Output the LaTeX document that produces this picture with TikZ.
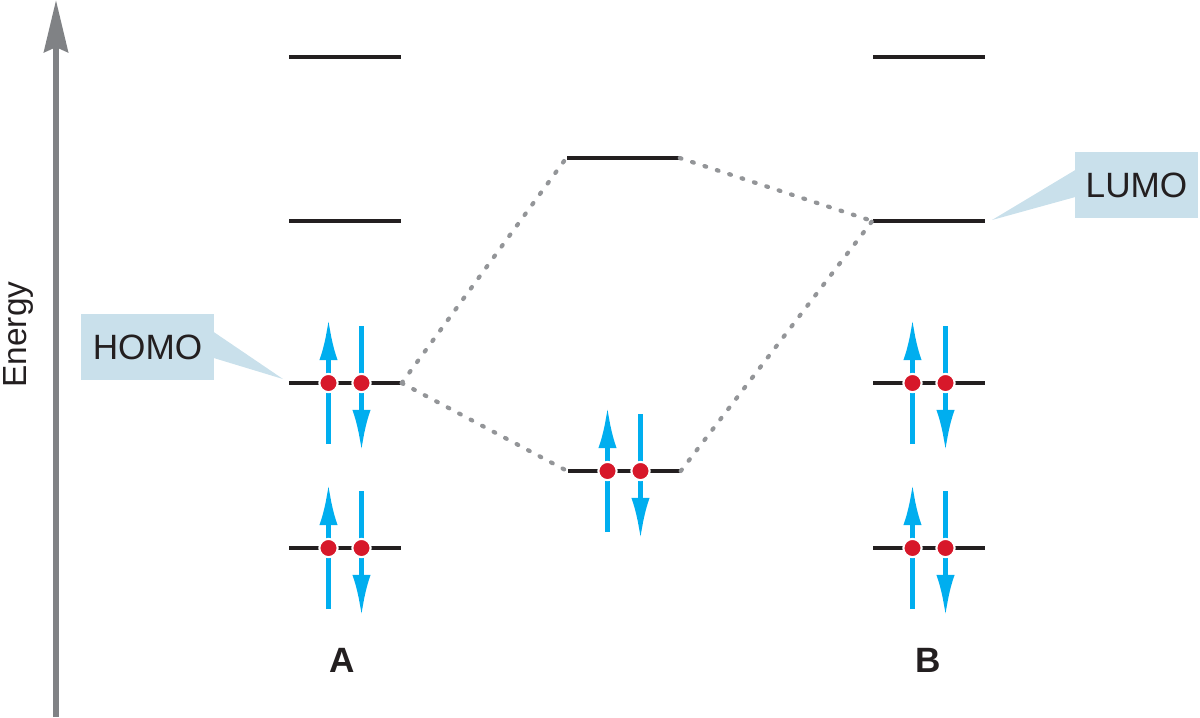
\documentclass[tikz,border=0pt]{standalone}
\usepackage{fontspec}
\setmainfont{Liberation Sans}
\usetikzlibrary{arrows.meta}
\definecolor{levelblack}{RGB}{35,31,32}
\definecolor{spincyan}{RGB}{0,174,239}
\definecolor{dotred}{RGB}{215,24,42}
\definecolor{linkgray}{RGB}{147,149,152}
\definecolor{axisgray}{RGB}{128,130,133}
\definecolor{calloutblue}{RGB}{201,224,235}
\def\spinsep{16.5}

\begin{document}
\begin{tikzpicture}[x=0.01cm,y=-0.01cm]
	\tikzstyle{level}=[rectangle,fill=levelblack,minimum width=1.12cm,minimum height=1.4pt,inner sep=0pt]
	\tikzstyle{spin}=[draw=spincyan,line width=1.3pt,-{Latex[length=11.7pt,width=5.2pt]}]
	\tikzstyle{electron}=[circle,fill=dotred,draw=white,line width=0.6pt,minimum size=5.2pt,inner sep=0pt]
	\tikzstyle{link}=[draw=linkgray,line width=1.2pt,line cap=round,dash pattern=on 0.5pt off 3.2pt]
	\tikzstyle{callout}=[fill=calloutblue]
	\tikzstyle{label}=[font=\fontsize{10pt}{12pt}\selectfont,text=levelblack,inner sep=0pt]
	\useasboundingbox (0,0) rectangle (1200,717);

	% Energy axis
	\coordinate (axis-bot) at (56,717);
	\coordinate (axis-top) at (56,0);
	\draw[axisgray,line width=1.7pt,-{Stealth[length=14.8pt,width=6.8pt,inset=1.4pt]}] (axis-bot) -- (axis-top);
	\node[label,font=\fontsize{9.5pt}{11pt}\selectfont,rotate=90] (energy) at (18.5,334.5) {Energy};

	% Draw levels of A
	\foreach \name / \y in {1/57,2/221,3/383,4/548}
	\node[level] (A-\name) at (345,\y) {};

	% Draw levels of B
	\foreach \name / \y in {1/57,2/221,3/383,4/548}
	\node[level] (B-\name) at (929,\y) {};

	% Draw mixed levels
	\node[level] (M-1) at (623,158) {};
	\node[level] (M-2) at (624,471) {};

	% Connect levels
	\path[link] (A-3.east) edge (M-1.west) edge (M-2.west);
	\path[link] (M-1.east) edge (B-2.west);
	\path[link] (M-2.east) edge (B-2.west);

	% Draw electron pairs
	\foreach \lev in {A-3,A-4,M-2,B-3,B-4}{
		\draw[spin] ([shift={(-\spinsep,61)}]\lev.center) -- ([shift={(-\spinsep,-64)}]\lev.center);
		\draw[spin] ([shift={(\spinsep,-57)}]\lev.center) -- ([shift={(\spinsep,68)}]\lev.center);
		\node[electron] (\lev-up) at ([shift={(-\spinsep,0)}]\lev.center) {};
		\node[electron] (\lev-down) at ([shift={(\spinsep,0)}]\lev.center) {};
	}

	% Annotate
	\node[callout,minimum width=1.33cm,minimum height=0.66cm,label] (homo) at (147.5,347) {HOMO};
	\coordinate (homo-tip) at (283,379);
	\fill[callout] ([shift={(-1,-15)}]homo.east) -- (homo-tip) -- ([shift={(-1,11)}]homo.east) -- cycle;

	\node[callout,minimum width=1.23cm,minimum height=0.66cm,label] (lumo) at (1136.5,185) {LUMO};
	\coordinate (lumo-tip) at (992,220);
	\fill[callout] ([shift={(1,-15)}]lumo.west) -- (lumo-tip) -- ([shift={(1,12)}]lumo.west) -- cycle;

	\node[label,font=\fontsize{10pt}{12pt}\selectfont\bfseries] (mol-A) at (342,660.5) {A};
	\node[label,font=\fontsize{10pt}{12pt}\selectfont\bfseries] (mol-B) at (928,660.5) {B};
\end{tikzpicture}
\end{document}
